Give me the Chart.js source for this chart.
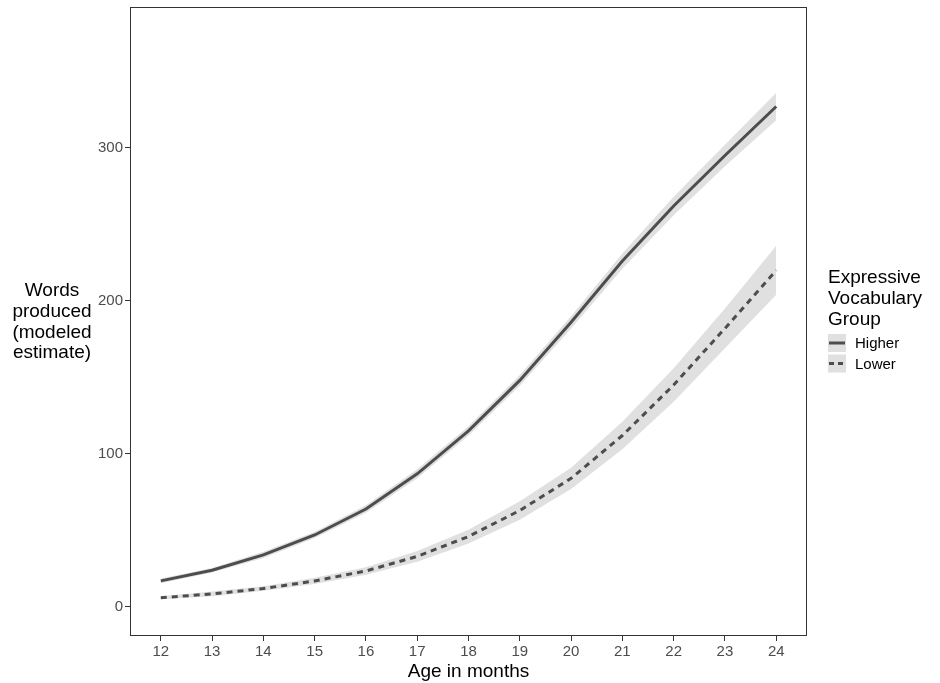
<!DOCTYPE html>
<html>
<head>
<meta charset="utf-8">
<script src="https://cdn.jsdelivr.net/npm/chart.js@4/dist/chart.umd.min.js"></script>
<style>
  html, body { margin: 0; padding: 0; background: #fff; }
  #wrap { width: 940px; height: 683px; }
</style>
</head>
<body>
<div id="wrap"><canvas id="myChart"></canvas></div>
<script>
const ages = [12, 13, 14, 15, 16, 17, 18, 19, 20, 21, 22, 23, 24];
const higher = [17, 24, 34, 47, 64, 87, 115, 148, 186, 226, 262, 295, 327];
const higherLo = [15.5, 22.5, 32, 45, 61.5, 84, 112, 144.5, 182, 221, 256, 288, 318];
const higherHi = [18.5, 25.5, 36, 49, 66.5, 90, 118, 151.5, 190, 231, 268, 302, 336];
const lower = [6, 8.5, 12, 17, 23.5, 33, 46, 63, 84, 112, 145, 182, 220];
const lowerLo = [5, 7, 10.5, 15, 21, 29.5, 41.5, 57, 77, 103, 134, 169, 204];
const lowerHi = [7, 10, 13.5, 19, 26, 36.5, 50.5, 69, 91, 121, 156, 195, 236];
const yTicks = [0, 100, 200, 300];
const groups = ["Higher", "Lower"];

const lineColor = "#4d4d4d";
const bandColor = "#e0e0e0";
const font = "'Liberation Sans', Arial, sans-serif";

const pts = (arr) => ages.map((a, i) => ({ x: a, y: arr[i] }));

const band = (data, fill) => ({
  data: pts(data),
  borderWidth: 0,
  pointRadius: 0,
  backgroundColor: bandColor,
  fill: fill,
  order: 2,
});

// panel border, y title and legend
const extras = {
  id: "extras",
  afterDraw(chart) {
    const ctx = chart.ctx;
    const a = chart.chartArea;
    ctx.save();
    ctx.strokeStyle = "#333";
    ctx.lineWidth = 1;
    ctx.strokeRect(a.left + 0.5, a.top + 0.5, a.right - a.left - 1, a.bottom - a.top - 1);

    ctx.fillStyle = "#000";
    ctx.font = "19px " + font;
    ctx.textAlign = "center";
    ctx.textBaseline = "middle";
    ["Words", "produced", "(modeled", "estimate)"].forEach((t, i) => {
      ctx.fillText(t, 52, 291 + i * 20.7);
    });

    ctx.textAlign = "left";
    ["Expressive", "Vocabulary", "Group"].forEach((t, i) => {
      ctx.fillText(t, 828, 278 + i * 20.7);
    });

    groups.forEach((g, i) => {
      const y = 343 + i * 20.5;
      ctx.fillStyle = bandColor;
      ctx.fillRect(828, y - 9, 18, 18);
      ctx.strokeStyle = lineColor;
      ctx.lineWidth = 3;
      ctx.setLineDash(i === 0 ? [] : [5, 4]);
      ctx.beginPath();
      ctx.moveTo(829, y);
      ctx.lineTo(845, y);
      ctx.stroke();
      ctx.setLineDash([]);
      ctx.fillStyle = "#000";
      ctx.font = "15px " + font;
      ctx.fillText(g, 855, y + 1);
    });
    ctx.restore();
  },
};

new Chart(document.getElementById("myChart"), {
  type: "line",
  data: {
    datasets: [
      band(higherHi, "+1"),
      band(higherLo, false),
      band(lowerHi, "+1"),
      band(lowerLo, false),
      {
        label: groups[0],
        data: pts(higher),
        borderColor: lineColor,
        borderWidth: 3,
        pointRadius: 0,
        fill: false,
        order: 1,
      },
      {
        label: groups[1],
        data: pts(lower),
        borderColor: lineColor,
        borderWidth: 3,
        borderDash: [6, 5],
        pointRadius: 0,
        fill: false,
        order: 1,
      },
    ],
  },
  options: {
    responsive: true,
    maintainAspectRatio: false,
    animation: false,
    layout: { padding: { top: 7, right: 133, left: 0, bottom: 0 } },
    plugins: {
      legend: { display: false },
      tooltip: { enabled: false },
    },
    scales: {
      x: {
        type: "linear",
        min: 11.4,
        max: 24.6,
        afterBuildTicks: (s) => { s.ticks = ages.map((v) => ({ value: v })); },
        grid: { drawOnChartArea: false, tickLength: 5, color: "#333" },
        border: { display: false },
        ticks: { color: lineColor, font: { size: 15, family: font }, padding: 2 },
        title: {
          display: true,
          text: "Age in months",
          color: "#000",
          font: { size: 19, family: font },
          padding: { top: 0, bottom: 0 },
        },
        afterFit: (s) => { s.height = 47; s.paddingLeft = 0; s.paddingRight = 0; },
      },
      y: {
        min: -19,
        max: 392,
        afterBuildTicks: (s) => { s.ticks = yTicks.map((v) => ({ value: v })); },
        grid: { drawOnChartArea: false, tickLength: 5, color: "#333" },
        border: { display: false },
        ticks: { color: lineColor, font: { size: 15, family: font }, padding: 2 },
        afterFit: (s) => { s.width = 130; s.paddingTop = 0; s.paddingBottom = 0; },
      },
    },
  },
  plugins: [extras],
});
</script>
</body>
</html>
